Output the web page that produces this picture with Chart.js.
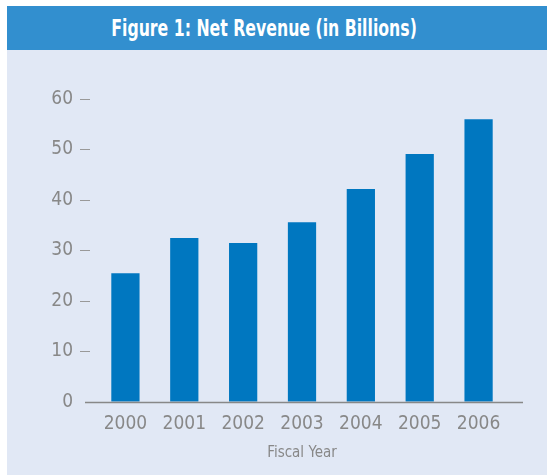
<!DOCTYPE html>
<html>
<head>
<meta charset="utf-8">
<script src="https://cdn.jsdelivr.net/npm/chart.js@4/dist/chart.umd.min.js"></script>
<style>
  body { margin: 0; background: #ffffff; }
  #panel {
    position: absolute; left: 7px; top: 6px;
    width: 540px; height: 469px;
    background: #e1e8f5;
  }
  #header {
    height: 44px; line-height: 44px;
    background: #328fcf; color: #ffffff;
    font-family: "Liberation Sans Narrow", "DejaVu Sans Condensed", sans-serif;
    font-weight: bold; font-size: 23px;
    text-align: center; padding-right: 26px;
  }
  #header span { display: inline-block; transform: scaleX(0.76); white-space: nowrap; }
  #wrap { position: relative; width: 540px; height: 425px; }
</style>
</head>
<body>
<div id="panel">
  <div id="header"><span>Figure 1: Net Revenue (in Billions)</span></div>
  <div id="wrap"><canvas id="revenue-chart" width="540" height="425"></canvas></div>
</div>
<script>
// Net revenue by fiscal year, in billions
const years = ['2000', '2001', '2002', '2003', '2004', '2005', '2006'];
const revenue = [25.5, 32.5, 31.5, 35.6, 42.2, 49.1, 56.0];
const yTicks = [0, 10, 20, 30, 40, 50, 60];

const FONT = '"Liberation Sans Narrow", "DejaVu Sans Condensed", sans-serif';
const GREY = '#888888';

// baseline runs a little past the bars on both sides
const baseline = {
    id: 'baseline',
    afterDatasetsDraw(chart) {
        const { ctx, chartArea, scales } = chart;
        const y = Math.round(scales.y.getPixelForValue(0)) + 0.5;
        ctx.save();
        ctx.strokeStyle = GREY;
        ctx.lineWidth = 1.5;
        ctx.beginPath();
        ctx.moveTo(chartArea.left - 11, y);
        ctx.lineTo(chartArea.right + 15, y);
        ctx.stroke();
        ctx.restore();
    }
};

new Chart(document.getElementById('revenue-chart'), {
    type: 'bar',
    data: {
        labels: years,
        datasets: [{
            data: revenue,
            backgroundColor: '#0077c0',
            borderWidth: 0,
            categoryPercentage: 1,
            barPercentage: 0.48
        }]
    },
    options: {
        responsive: false,
        animation: false,
        layout: { padding: { top: 49, right: 39, left: 0, bottom: 9 } },
        plugins: {
            legend: { display: false },
            tooltip: { enabled: false }
        },
        scales: {
            x: {
                grid: { display: false, drawTicks: false },
                border: { display: false },
                ticks: { color: GREY, font: { family: FONT, size: 19 }, padding: 11 },
                title: {
                    display: true, text: 'Fiscal Year', color: GREY,
                    font: { family: FONT, size: 15 }, padding: { top: 0 }
                },
                afterFit(scale) { scale.height = 64; }
            },
            y: {
                min: 0, max: 60,
                afterBuildTicks(scale) { scale.ticks = yTicks.map(v => ({ value: v })); },
                grid: {
                    drawOnChartArea: false,
                    tickLength: 16,
                    // short dash beside each label, none at zero
                    tickColor: ctx => ctx.tick && ctx.tick.value === 0 ? 'transparent' : '#999999',
                    tickWidth: 1,
                    tickBorderDash: [10, 6],
                    tickBorderDashOffset: 0
                },
                border: { display: false },
                ticks: { color: GREY, font: { family: FONT, size: 19 }, padding: 7 },
                afterFit(scale) { scale.width = 89; }
            }
        }
    },
    plugins: [baseline]
});
</script>
</body>
</html>
